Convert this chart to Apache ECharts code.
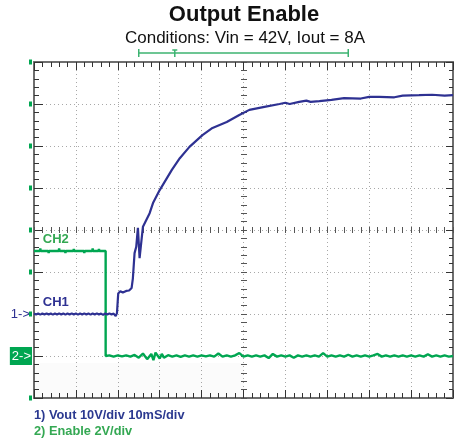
<!DOCTYPE html>
<html>
<head>
<meta charset="utf-8">
<script src="https://cdn.jsdelivr.net/npm/echarts@6/dist/echarts.min.js"></script>
<style>
  html, body { margin: 0; padding: 0; background: #fff; }
  #chart { width: 454px; height: 442px; }
</style>
</head>
<body>
<div id="chart"></div>
<script>
// time axis in ms (10 ms/div), CH1 in volts (10 V/div), CH2 in volts (2 V/div)
const timeRange = [0, 100, 10];
const ch1Range = [-20, 60, 10];
const ch2Range = [-2, 14, 2];
const minorSteps = { time: 2, ch1: 2 };

// Vout trace, [ms, V]
const ch1Points = [
  [0, 0.12], [0.5, -0.12], [1, 0.1], [1.5, -0.15], [2, 0.12], [2.5, -0.1], [3, 0.15], [3.5, -0.12],
  [4, 0.1], [4.5, -0.15], [5, 0.12], [5.5, -0.1], [6, 0.15], [6.5, -0.12], [7, 0.1], [7.5, -0.15],
  [8, 0.12], [8.5, -0.1], [9, 0.15], [9.5, -0.12], [10, 0.1], [10.5, -0.15], [11, 0.12], [11.5, -0.1],
  [12, 0.15], [12.5, -0.12], [13, 0.1], [13.5, -0.15], [14, 0.12], [14.5, -0.1], [15, 0.15], [15.5, -0.12],
  [16, 0.1], [16.5, -0.2], [17, 0.12], [17.5, -0.1], [18, 0.15], [18.5, -0.12], [19, 0.1], [19.5, -0.5],
  [19.8, 0.2], [20.1, 4.9], [20.6, 5.4], [21.2, 5.1], [22, 5.5], [22.7, 5.6], [23.3, 6.2],
  [23.6, 8.5], [24.0, 14.5], [24.4, 16], [24.8, 20.5], [25.2, 13.3], [26.0, 20.8], [27.6, 24.0],
  [28.4, 26.4], [30.0, 29.5], [32.9, 34.3], [34.8, 37.1], [37.1, 39.8], [40.2, 42.6], [42.6, 44.3],
  [46.0, 45.7], [49.0, 47.4], [51.4, 48.6], [55.0, 49.3], [58.6, 50.0], [60, 50.3], [61, 50.0],
  [63.3, 50.5], [65, 50.8], [66, 50.5], [68.1, 50.7], [71, 51.0], [74.0, 51.4], [78, 51.3],
  [80, 51.7], [82.4, 51.7], [86, 51.6], [88, 52.0], [91.9, 52.1], [95, 52.2], [98, 52.0], [100, 52.1]
];

// Enable trace, [ms, V]
const ch2Points = [
  [0, 5.0], [1.4, 5.0], [1.5, 5.12], [1.6, 5.0], [3.4, 5.0], [3.5, 4.9], [3.6, 5.0], [5.9, 5.0],
  [6.0, 5.12], [6.1, 5.0], [7.4, 5.0], [7.5, 4.9], [7.6, 5.0], [9.4, 5.0], [9.5, 5.1], [9.6, 5.0],
  [11.9, 5.0], [12.0, 4.9], [12.1, 5.0], [13.9, 5.0], [14.0, 5.12], [14.1, 5.0], [15.4, 5.0],
  [15.5, 5.1], [15.6, 5.0], [17.1, 5.0],
  [17.1, 0.0], [18, 0.03], [19, -0.03], [20, 0.03], [21, -0.02], [22, 0.03], [23, -0.03], [24, 0.05],
  [25, -0.08], [26, 0.12], [27, -0.15], [28, 0.1], [28.5, -0.2], [29, 0.16], [30, -0.12], [30.5, 0.1],
  [31, -0.08], [32, 0.04], [33, -0.03], [34, 0.03], [35, -0.04], [36, 0.03], [37, -0.03], [38, 0.03],
  [39, -0.03], [40, 0.03], [41, -0.02], [42, 0.03], [43, -0.03], [44, 0.12], [45, -0.03], [46, 0.03],
  [47, -0.03], [48, 0.03], [49, 0.14], [50, -0.03], [51, 0.03], [52, -0.03], [53, 0.03], [54, -0.03],
  [55, 0.03], [56, -0.1], [57, 0.1], [58, -0.03], [59, 0.03], [60, -0.03], [61, 0.03], [62, -0.08],
  [63, 0.03], [64, -0.03], [65, 0.03], [66, -0.03], [67, 0.03], [68, -0.03], [69, 0.14], [70, -0.03],
  [71, 0.03], [72, -0.03], [73, 0.03], [74, -0.03], [75, 0.06], [76, -0.03], [77, 0.03], [78, -0.03],
  [79, 0.03], [80, -0.03], [81, 0.03], [82, 0.1], [83, -0.03], [84, 0.03], [85, -0.03], [86, 0.03],
  [87, -0.03], [88, 0.03], [89, -0.03], [90, 0.03], [91, -0.03], [92, 0.03], [93, -0.03], [94, 0.08],
  [95, -0.03], [96, 0.03], [97, -0.03], [98, 0.03], [99, -0.03], [100, 0.0]
];

// cursor span and trigger mark above the screen, in ms
const cursorSpan = [25, 75];
const triggerAt = 33.6;

const blue = "#2e3192";
const green = "#00a651";
const textGreen = "#34a853";
const frameColor = "#6e6e6e";
const tickColor = "#333";
const gridDots = { color: "#a8a8a8", width: 1, type: [1, 3] };

const chart = echarts.init(document.getElementById("chart"));

const t = { min: timeRange[0], max: timeRange[1], interval: timeRange[2] };
const tMinor = { min: timeRange[0], max: timeRange[1], interval: minorSteps.time };
const y1 = { min: ch1Range[0], max: ch1Range[1], interval: ch1Range[2] };
const y1Minor = { min: ch1Range[0], max: ch1Range[1], interval: minorSteps.ch1 };
const y2 = { min: ch2Range[0], max: ch2Range[1], interval: ch2Range[2] };

// an axis that only draws its line and/or ticks
function tickAxis(range, position, length, opts) {
  opts = opts || {};
  return Object.assign({
    type: "value",
    position: position,
    gridIndex: opts.grid || 0,
    axisLine: { show: !!opts.line, onZero: false, lineStyle: { color: frameColor, width: 2 } },
    axisTick: { show: true, inside: opts.outside ? false : true, length: length,
      lineStyle: { color: opts.color || tickColor, width: 1 } },
    axisLabel: { show: false },
    splitLine: { show: false },
  }, range);
}

function hiddenAxis(grid) {
  return { type: "value", gridIndex: grid, show: false, min: 0, max: 1, splitLine: { show: false } };
}

const option = {
  animation: false,
  textStyle: { fontFamily: "Liberation Sans, Arial, sans-serif" },
  title: [
    { text: "Output Enable", left: 244, textAlign: "center", top: 4, padding: 0,
      textStyle: { fontSize: 22, fontWeight: "bold", color: "#111" } },
    { text: "Conditions: Vin = 42V, Iout = 8A", left: 245, textAlign: "center", top: 30, padding: 0,
      textStyle: { fontSize: 17, fontWeight: "normal", color: "#111" } },
    { text: "1) Vout 10V/div 10mS/div", left: 34, top: 409, padding: 0,
      textStyle: { fontSize: 12.8, fontWeight: "bold", color: "#2b3990" } },
    { text: "2) Enable 2V/div", left: 34, top: 425, padding: 0,
      textStyle: { fontSize: 12.8, fontWeight: "bold", color: textGreen } },
  ],
  grid: [
    { left: 34, top: 62, width: 419, height: 336 },
    // upper half: its bottom edge is the horizontal centre line
    { left: 34, top: 62, width: 419, height: 168 },
    // left half: its right edge is the vertical centre line
    { left: 34, top: 62, width: 210, height: 336 },
  ],
  xAxis: [
    Object.assign(tickAxis(t, "bottom", 8, { line: true }), { splitLine: { show: true, lineStyle: gridDots } }),
    tickAxis(tMinor, "bottom", 5),
    tickAxis(t, "top", 8, { line: true }),
    tickAxis(tMinor, "top", 5),
    tickAxis(tMinor, "bottom", 3, { grid: 1, color: "#555" }),
    tickAxis(tMinor, "bottom", 3, { grid: 1, color: "#555", outside: true }),
    hiddenAxis(2),
  ],
  yAxis: [
    Object.assign(tickAxis(y1, "left", 9, { line: true }), {
      splitLine: { show: true, lineStyle: gridDots },
      axisLabel: {
        show: true, margin: 4, fontSize: 13, color: blue,
        formatter: (v) => (v === 0 ? "1->" : ""),
      },
    }),
    Object.assign({
      type: "value", position: "left", offset: 0,
      axisLine: { show: false, onZero: false }, axisTick: { show: false }, splitLine: { show: false },
      axisLabel: {
        show: true, margin: 2, fontSize: 13, color: "#fff",
        backgroundColor: green, padding: [3, 1, 2, 2],
        formatter: (v) => (v === 0 ? "2->" : ""),
      },
    }, y2),
    tickAxis(y1Minor, "left", 5),
    tickAxis(y1, "right", 7, { line: true }),
    tickAxis(y1Minor, "right", 4),
    hiddenAxis(1),
    tickAxis(y1Minor, "right", 3, { grid: 2, color: "#555" }),
    tickAxis(y1Minor, "right", 3, { grid: 2, color: "#555", outside: true }),
  ],
  series: [
    {
      name: "CH2",
      type: "line",
      xAxisIndex: 0,
      yAxisIndex: 1,
      data: ch2Points,
      showSymbol: false,
      lineStyle: { color: green, width: 2.4 },
      z: 3,
      markArea: {
        silent: true,
        itemStyle: { color: "rgba(0,0,0,0.015)" },
        data: [[{ xAxis: 0, yAxis: -2 }, { xAxis: 50, yAxis: -0.33 }]],
      },
      markPoint: {
        symbolSize: 0,
        label: { show: true, position: "right", distance: 0, formatter: "CH2",
          fontSize: 13, fontWeight: "bold", color: textGreen },
        data: [{ coord: [2.1, 5.55] }],
      },
    },
    {
      name: "CH1",
      type: "line",
      xAxisIndex: 0,
      yAxisIndex: 0,
      data: ch1Points,
      showSymbol: false,
      lineStyle: { color: blue, width: 2.2 },
      z: 4,
      markPoint: {
        symbolSize: 0,
        label: { show: true, position: "right", distance: 0, formatter: "CH1",
          fontSize: 13, fontWeight: "bold", color: blue },
        data: [{ coord: [2.1, 2.85] }],
      },
    },
  ],
};

chart.setOption(option);

// green cursor bar above the graticule
const xa = chart.convertToPixel({ xAxisIndex: 0 }, cursorSpan[0]);
const xb = chart.convertToPixel({ xAxisIndex: 0 }, cursorSpan[1]);
const xt = chart.convertToPixel({ xAxisIndex: 0 }, triggerAt);
const barY = 53;
const barStyle = { stroke: "#3cb371", lineWidth: 1.5 };
chart.setOption({
  graphic: [
    { type: "line", shape: { x1: xa, y1: barY, x2: xb, y2: barY }, style: barStyle },
    { type: "line", shape: { x1: xa, y1: barY - 4, x2: xa, y2: barY + 4 }, style: barStyle },
    { type: "line", shape: { x1: xb, y1: barY - 4, x2: xb, y2: barY + 4 }, style: barStyle },
    { type: "line", shape: { x1: xt, y1: barY - 3, x2: xt, y2: barY + 4 }, style: barStyle },
    { type: "line", shape: { x1: xt - 2.5, y1: barY - 3, x2: xt + 2.5, y2: barY - 3 }, style: barStyle },
  ],
});
</script>
</body>
</html>
